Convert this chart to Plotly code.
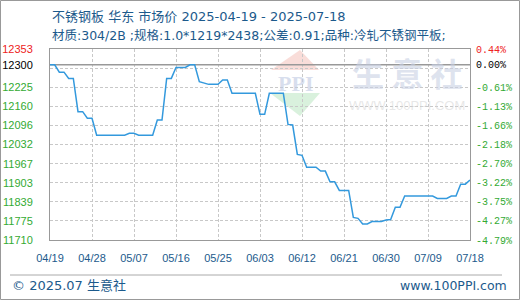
import plotly.graph_objects as go
import pandas as pd

# ---------------- data ----------------
dates = pd.date_range("2025-04-19", "2025-07-18", freq="D")
prices = [
    12300, 12300, 12275, 12275, 12254, 12254, 12142, 12142, 12120, 12120,
    12063, 12063, 12063, 12063, 12063, 12063, 12063, 12069, 12069, 12063,
    12063, 12063, 12063, 12114, 12114, 12254, 12254, 12291, 12291, 12291,
    12300, 12300, 12243, 12238, 12234, 12234, 12234, 12249, 12249, 12204,
    12204, 12204, 12204, 12204, 12204, 12133, 12133, 12204, 12204, 12204,
    12204, 12099, 12097, 11998, 11995, 11955, 11955, 11955, 11942, 11942,
    11906, 11906, 11877, 11877, 11877, 11786, 11783, 11764, 11764, 11772,
    11772, 11772, 11777, 11779, 11820, 11820, 11858, 11858, 11858, 11858,
    11858, 11858, 11858, 11850, 11850, 11850, 11858, 11858, 11898, 11898,
    11912,
]
base_price = 12300
y_range = [11710, 12353]
left_ticks = [11710, 11775, 11839, 11903, 11967, 12032, 12096, 12160, 12225, 12289, 12300, 12353]
left_labels = ["11710", "11775", "11839", "11903", "11967", "12032", "12096",
               "12160", "12225", "", "12300", "12353"]
right_labels = ["-4.79%", "-4.27%", "-3.75%", "-3.22%", "-2.70%", "-2.18%", "-1.66%",
                "-1.13%", "-0.61%", "", "0.00%", "0.44%"]
x_ticks = ["2025-04-19", "2025-04-28", "2025-05-07", "2025-05-16", "2025-05-25",
           "2025-06-03", "2025-06-12", "2025-06-21", "2025-06-30", "2025-07-09",
           "2025-07-18"]
x_labels = ["04/19", "04/28", "05/07", "05/16", "05/25", "06/03", "06/12",
            "06/21", "06/30", "07/09", "07/18"]
title_text = "不锈钢板 华东 市场价 2025-04-19 - 2025-07-18"
subtitle_text = "材质:304/2B ;规格:1.0*1219*2438;公差:0.91;品种:冷轧不锈钢平板;"
footer_left = "© 2025.07 生意社"
footer_right = "www.100PPI.com"

# ---------------- style ----------------
GREEN = "#33aa33"
RED = "#ee2222"
BLACK = "#000000"
BLUE_TXT = "#1c5a8c"
GRID = "#c8c8c8"
FRAME = "#999999"
LINE = "#3399dd"

W, H = 520, 300
ML, MR, MT, MB = 50, 50, 49, 60
PW, PH = W - ML - MR, H - MT - MB


def px(x):
    return (x - ML) / PW


def py(y):
    return (H - MB - y) / PH


def label_color(v):
    if v > base_price:
        return RED
    if v == base_price:
        return BLACK
    return GREEN


left_text = [f'<span style="color:{label_color(v)}">{t}</span>' for v, t in zip(left_ticks, left_labels)]
right_text = [f'<span style="color:{label_color(v)}">{t}</span>' for v, t in zip(left_ticks, right_labels)]

fig = go.Figure()
# baseline at the base price
fig.add_trace(go.Scatter(x=[dates[0], dates[-1]], y=[base_price, base_price], mode="lines",
                         line=dict(color=FRAME, width=1.5), hoverinfo="skip",
                         showlegend=False))
fig.add_trace(go.Scatter(x=dates, y=prices, mode="lines",
                         line=dict(color=LINE, width=1.5), hoverinfo="skip",
                         showlegend=False))
fig.add_trace(go.Scatter(x=dates, y=prices, mode="lines", yaxis="y2",
                         opacity=0, line=dict(width=1), hoverinfo="skip",
                         showlegend=False))

fig.update_layout(
    width=W, height=H,
    margin=dict(l=ML, r=MR, t=MT, b=MB, pad=0, autoexpand=False),
    paper_bgcolor="white", plot_bgcolor="rgba(0,0,0,0)",
    showlegend=False,
    xaxis=dict(
        type="date", range=[dates[0], dates[-1]],
        tickvals=x_ticks, ticktext=x_labels, tickangle=0,
        showgrid=True, gridcolor=GRID, griddash="3px,2px", gridwidth=1,
        showline=True, linecolor=FRAME, linewidth=1, mirror=True,
        ticks="outside", ticklen=8, tickcolor="rgba(0,0,0,0)",
        tickfont=dict(family="Liberation Sans, Arial", size=11, color=BLUE_TXT),
        zeroline=False, fixedrange=True, automargin=False,
    ),
    yaxis=dict(
        range=y_range, tickvals=left_ticks, ticktext=left_text,
        showgrid=True, gridcolor=GRID, griddash="3px,2px", gridwidth=1,
        showline=True, linecolor=FRAME, linewidth=1, mirror=True,
        ticks="outside", ticklen=14, tickcolor="rgba(0,0,0,0)",
        tickfont=dict(family="Liberation Sans, Arial", size=11, color=GREEN),
        zeroline=False, fixedrange=True, automargin=False,
    ),
    yaxis2=dict(
        range=y_range, overlaying="y", side="right", anchor="x",
        tickvals=left_ticks, ticktext=right_text,
        showgrid=False, showline=False, zeroline=False,
        ticks="outside", ticklen=3, tickcolor="rgba(0,0,0,0)",
        tickfont=dict(family="Liberation Mono, DejaVu Sans Mono", size=10, color=GREEN),
        fixedrange=True, automargin=False,
    ),
)

# watermark logo (decoration)
fig.add_shape(type="path", xref="paper", yref="paper", layer="below",
              path=f"M {px(300)} {py(50)} L {px(319)} {py(70)} L {px(271)} {py(70)} Z",
              fillcolor="rgba(240,170,160,0.4)", line=dict(width=0))
fig.add_shape(type="path", xref="paper", yref="paper", layer="below",
              path=f"M {px(270)} {py(93)} L {px(320)} {py(93)} L {px(300)} {py(116)} Z",
              fillcolor="rgba(160,220,170,0.4)", line=dict(width=0))
fig.add_annotation(xref="paper", yref="paper", x=px(295), y=py(83), text="<b>PPI</b>",
                   showarrow=False, xanchor="center", yanchor="middle",
                   font=dict(family="Liberation Serif, DejaVu Serif", size=22,
                             color="rgba(190,200,225,0.6)"))
fig.add_annotation(xref="paper", yref="paper", x=px(407), y=py(72), text="<b>生 意 社</b>",
                   showarrow=False, xanchor="center", yanchor="middle",
                   font=dict(family="Noto Sans CJK SC", size=32,
                             color="rgba(200,208,228,0.6)"))
fig.add_annotation(xref="paper", yref="paper", x=px(407), y=py(105), text="WWW.100PPI.COM",
                   showarrow=False, xanchor="center", yanchor="middle",
                   font=dict(family="Liberation Sans, Arial", size=13,
                             color="rgba(215,215,215,0.6)"))

# titles
fig.add_annotation(xref="paper", yref="paper", x=px(50), y=py(16), text=title_text,
                   showarrow=False, xanchor="left", yanchor="middle",
                   font=dict(family="DejaVu Sans, Noto Sans CJK SC", size=13, color=BLUE_TXT))
fig.add_annotation(xref="paper", yref="paper", x=px(50), y=py(35), text=subtitle_text,
                   showarrow=False, xanchor="left", yanchor="middle",
                   font=dict(family="DejaVu Sans, Noto Sans CJK SC", size=12.5, color=BLUE_TXT))

# footer
fig.add_shape(type="line", xref="paper", yref="paper", x0=px(10), x1=px(502),
              y0=py(275), y1=py(275), line=dict(color="#aaaaaa", width=1))
fig.add_annotation(xref="paper", yref="paper", x=px(10), y=py(285), text=footer_left,
                   showarrow=False, xanchor="left", yanchor="middle",
                   font=dict(family="DejaVu Sans, Noto Sans CJK SC", size=13, color=BLUE_TXT))
fig.add_annotation(xref="paper", yref="paper", x=px(509), y=py(285), text=footer_right,
                   showarrow=False, xanchor="right", yanchor="middle",
                   font=dict(family="DejaVu Sans", size=12.5, color=BLUE_TXT))

# outer border
fig.add_shape(type="rect", xref="paper", yref="paper", x0=px(0.5), x1=px(519.5),
              y0=py(299.5), y1=py(0.5), line=dict(color="#999999", width=1),
              fillcolor="rgba(0,0,0,0)", layer="above")

fig.write_html("out.html", config={"displayModeBar": False})
